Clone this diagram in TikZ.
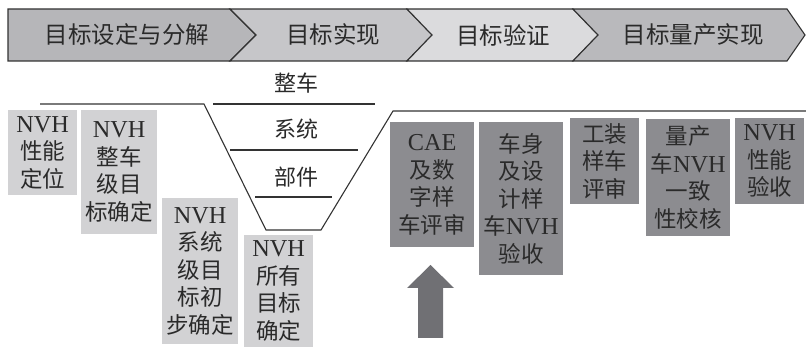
\documentclass[tikz,border=0pt]{standalone}
\usepackage{fontspec}
\setmainfont{Noto Sans CJK SC}
\newfontfamily\latfont{Liberation Serif}[Scale=1.08]
\newcommand\lat[1]{{\latfont #1}}
\definecolor{bline}{HTML}{333333}
\definecolor{segA}{HTML}{B6B6B9}
\definecolor{segB}{HTML}{C6C6C9}
\definecolor{segC}{HTML}{DBDBDD}
\definecolor{segD}{HTML}{B9B9BC}
\definecolor{lgray}{HTML}{D2D2D4}
\definecolor{dgray}{HTML}{8C8C90}
\definecolor{arrcol}{HTML}{707074}
\definecolor{tcol}{HTML}{2A2A2A}
\tikzset{
  seg/.style={draw=bline, line width=1.1pt, line join=miter},
  segtext/.style={text=tcol, font=\fontsize{23.5}{26}\selectfont, inner sep=0pt},
  funnel/.style={draw=bline, line width=1.1pt},
  lvl/.style={text=tcol, font=\fontsize{22}{26}\selectfont, inner sep=0pt},
  boxbase/.style={inner sep=0pt, align=center, text=tcol, anchor=north west,
    font=\fontsize{22.5}{27.5}\selectfont},
  lbox/.style={boxbase, fill=lgray},
  dbox/.style={boxbase, fill=dgray},
}
\begin{document}
\begin{tikzpicture}[x=1pt,y=-1pt]
\useasboundingbox (0,0) rectangle (806,347);
% banner
\filldraw[seg, fill=segA] (8,9) -- (230,9) -- (256,35) -- (230,61) -- (8,61) -- cycle;
\filldraw[seg, fill=segB] (230,9) -- (407,9) -- (432,35) -- (407,61) -- (230,61) -- (256,35) -- cycle;
\filldraw[seg, fill=segC] (407,9) -- (573,9) -- (598,35) -- (573,61) -- (407,61) -- (432,35) -- cycle;
\filldraw[seg, fill=segD] (573,9) -- (787,9) -- (805,35) -- (787,61) -- (573,61) -- (598,35) -- cycle;
\node[segtext] (s1) at (127,35) {目标设定与分解};
\node[segtext] (s2) at (333,35) {目标实现};
\node[segtext] (s3) at (503,35) {目标验证};
\node[segtext] (s4) at (693,35) {目标量产实现};
% funnel
\draw[funnel] (40,104) -- (204,104) -- (266,230) -- (321,230) -- (393,111) -- (806,111);
\draw[funnel] (213,104) -- (375,104);
\draw[funnel] (230,150) -- (358,150);
\draw[funnel] (255,197) -- (332,197);
\node[lvl] (l1) at (296,83) {整车};
\node[lvl] (l2) at (296,129) {系统};
\node[lvl] (l3) at (296,177) {部件};
% light boxes
\node[lbox, minimum width=69pt, minimum height=85pt] (b1) at (8,110) {\lat{NVH}\\性能\\定位};
\node[lbox, minimum width=76pt, minimum height=124pt] (b2) at (81,110) {\lat{NVH}\\整车\\级目\\标确定};
\node[lbox, minimum width=76pt, minimum height=146pt] (b3) at (162,198) {\lat{NVH}\\系统\\级目\\标初\\步确定};
\node[lbox, minimum width=69pt, minimum height=112pt] (b4) at (244,235) {\lat{NVH}\\所有\\目标\\确定};
% dark boxes
\node[dbox, minimum width=84pt, minimum height=125pt] (d1) at (390,122) {\lat{CAE}\\及数\\字样\\车评审};
\node[dbox, minimum width=84pt, minimum height=153pt] (d2) at (479,122) {车身\\及设\\计样\\车\lat{NVH}\\验收};
\node[dbox, minimum width=69pt, minimum height=86pt] (d3) at (570,118) {工装\\样车\\评审};
\node[dbox, minimum width=84pt, minimum height=117pt] (d4) at (646,119) {量产\\车\lat{NVH}\\一致\\性校核};
\node[dbox, minimum width=69pt, minimum height=86pt] (d5) at (735,118) {\lat{NVH}\\性能\\验收};
% arrow
\fill[arrcol] (418,338) -- (418,288) -- (407,288) -- (430.5,265) -- (454,288) -- (443,288) -- (443,338) -- cycle;
\end{tikzpicture}
\end{document}
